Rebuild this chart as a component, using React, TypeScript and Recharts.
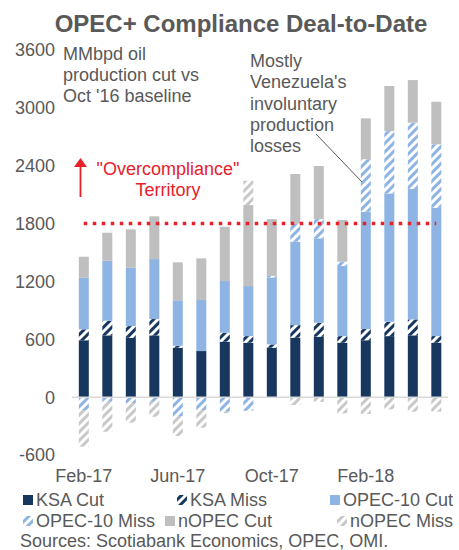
import React from "react";
import { BarChart, Bar, XAxis, YAxis, ReferenceLine } from "recharts";

const months = [
  "Feb-17", "Mar-17", "Apr-17", "May-17", "Jun-17", "Jul-17", "Aug-17", "Sep-17",
  "Oct-17", "Nov-17", "Dec-17", "Jan-18", "Feb-18", "Mar-18", "Apr-18", "May-18",
];
const ksaCut = [590, 641, 616, 641, 513, 478, 575, 565, 513, 616, 627, 565, 590, 633, 641, 565];
const ksaMiss = [113, 152, 121, 169, 20, 0, 93, 68, 34, 131, 145, 68, 116, 149, 165, 68];
const opecCut = [535, 621, 605, 622, 471, 529, 536, 519, 695, 865, 875, 727, 1217, 1331, 1352, 1331];
const opecMiss = [-134, -48, -64, -48, -203, -134, -151, -141, 15, 190, 200, 44, 544, 646, 688, 658];
const nopecCut = [218, 291, 398, 443, 394, 432, 563, 840, 590, 512, 550, 433, 424, 467, 442, 441];
const nopecMiss = [-380, -311, -201, -155, -200, -183, -15, 252, 0, -82, -48, -168, -175, -127, -151, -151];
const yTicks = [-600, 0, 600, 1200, 1800, 2400, 3000, 3600];
const threshold = 1800;

const data = months.map((m, i) => ({
  month: m,
  ksaCut: ksaCut[i],
  ksaMiss: ksaMiss[i],
  opecCut: opecCut[i],
  opecMiss: opecMiss[i],
  nopecCut: nopecCut[i],
  nopecMiss: nopecMiss[i],
}));

const NAVY = "#17375e";
const BLUE = "#8eb4e3";
const GRAY = "#bfbfbf";
const TXT = "#595959";
const RED = "#e8202a";
const FONT = "'Liberation Sans', Arial, sans-serif";

function Stripes({ id, bg, fg }: { id: string; bg: string; fg: string }) {
  return (
    <pattern id={id} patternUnits="userSpaceOnUse" width="6" height="6" patternTransform="rotate(45)">
      <rect width="6" height="6" fill={bg} />
      <rect width="3" height="6" fill={fg} />
    </pattern>
  );
}

const legendItems = [
  { label: "KSA Cut", fill: NAVY, x: 23, y: 506 },
  { label: "KSA Miss", fill: "url(#ksaMissPat)", x: 177, y: 506 },
  { label: "OPEC-10 Cut", fill: BLUE, x: 330, y: 506 },
  { label: "OPEC-10 Miss", fill: "url(#opecMissPat)", x: 23, y: 527 },
  { label: "nOPEC Cut", fill: GRAY, x: 165, y: 527 },
  { label: "nOPEC Miss", fill: "url(#nopecMissPat)", x: 337, y: 527 },
];

export default function App() {
  return (
    <div style={{ position: "absolute", left: 0, top: 0, width: 459, height: 550, background: "#fff", fontFamily: FONT }}>
      <svg width="0" height="0" style={{ position: "absolute" }}>
        <defs>
          <Stripes id="ksaMissPat" bg={NAVY} fg="#ffffff" />
          <Stripes id="opecMissPat" bg="#ffffff" fg={BLUE} />
          <Stripes id="nopecMissPat" bg="#ffffff" fg="#c8c8c8" />
        </defs>
      </svg>
      <div style={{ position: "absolute", left: 0, top: 0 }}>
        <BarChart
          width={459}
          height={490}
          data={data}
          stackOffset="sign"
          barCategoryGap="29%"
          margin={{ top: 50, right: 11, bottom: 5, left: 0 }}
        >
          <XAxis
            dataKey="month"
            interval={3}
            axisLine={false}
            tickLine={false}
            tickSize={0}
            tickMargin={14}
            height={30}
            tick={{ fontSize: 18, fill: TXT, fontFamily: FONT }}
          />
          <YAxis
            domain={[-600, 3600]}
            ticks={yTicks}
            width={72}
            axisLine={false}
            tickLine={false}
            tickSize={0}
            tickMargin={17}
            tick={{ fontSize: 18, fill: TXT, fontFamily: FONT }}
          />
          <Bar dataKey="ksaCut" stackId="a" fill={NAVY} isAnimationActive={false} />
          <Bar dataKey="ksaMiss" stackId="a" fill="url(#ksaMissPat)" isAnimationActive={false} />
          <Bar dataKey="opecCut" stackId="a" fill={BLUE} isAnimationActive={false} />
          <Bar dataKey="opecMiss" stackId="a" fill="url(#opecMissPat)" isAnimationActive={false} />
          <Bar dataKey="nopecCut" stackId="a" fill={GRAY} isAnimationActive={false} />
          <Bar dataKey="nopecMiss" stackId="a" fill="url(#nopecMissPat)" isAnimationActive={false} />
          <ReferenceLine y={0} stroke="#d9d9d9" strokeWidth={1.5} />
          <ReferenceLine
            segment={[
              { x: months[0], y: threshold },
              { x: months[months.length - 1], y: threshold },
            ]}
            stroke={RED}
            strokeWidth={3.5}
            strokeDasharray="3.5 5.5"
          />
        </BarChart>
      </div>
      <svg width={459} height={550} style={{ position: "absolute", left: 0, top: 0, pointerEvents: "none" }}>
        <text x={241} y={32} textAnchor="middle" fontSize={24} fontWeight="bold" fill={TXT} fontFamily={FONT}>
          OPEC+ Compliance Deal-to-Date
        </text>
        <text fontSize={18} fill={TXT} fontFamily={FONT}>
          <tspan x={63} y={60}>MMbpd oil</tspan>
          <tspan x={63} y={81}>production cut vs</tspan>
          <tspan x={63} y={102}>Oct '16 baseline</tspan>
        </text>
        <text fontSize={18} fill={TXT} fontFamily={FONT}>
          <tspan x={250} y={67}>Mostly</tspan>
          <tspan x={250} y={88}>Venezuela's</tspan>
          <tspan x={250} y={110}>involuntary</tspan>
          <tspan x={250} y={131}>production</tspan>
          <tspan x={250} y={152}>losses</tspan>
        </text>
        <line x1={316} y1={134} x2={362} y2={182} stroke={TXT} strokeWidth={1} />
        <text fontSize={18} fill={RED} fontFamily={FONT} textAnchor="middle">
          <tspan x={168} y={175}>"Overcompliance"</tspan>
          <tspan x={168} y={196}>Territory</tspan>
        </text>
        <line x1={80.5} y1={197} x2={80.5} y2={165} stroke={RED} strokeWidth={1.8} />
        <polygon points="74,167 87,167 80.5,158" fill={RED} />
        {legendItems.map((it) => (
          <g key={it.label}>
            <rect x={it.x} y={it.y - 11} width={10} height={10} fill={it.fill} />
            <text x={it.x + 13} y={it.y} fontSize={18} fill={TXT} fontFamily={FONT}>
              {it.label}
            </text>
          </g>
        ))}
        <text x={20} y={547} fontSize={18} fill={TXT} fontFamily={FONT}>
          Sources: Scotiabank Economics, OPEC, OMI.
        </text>
      </svg>
    </div>
  );
}
